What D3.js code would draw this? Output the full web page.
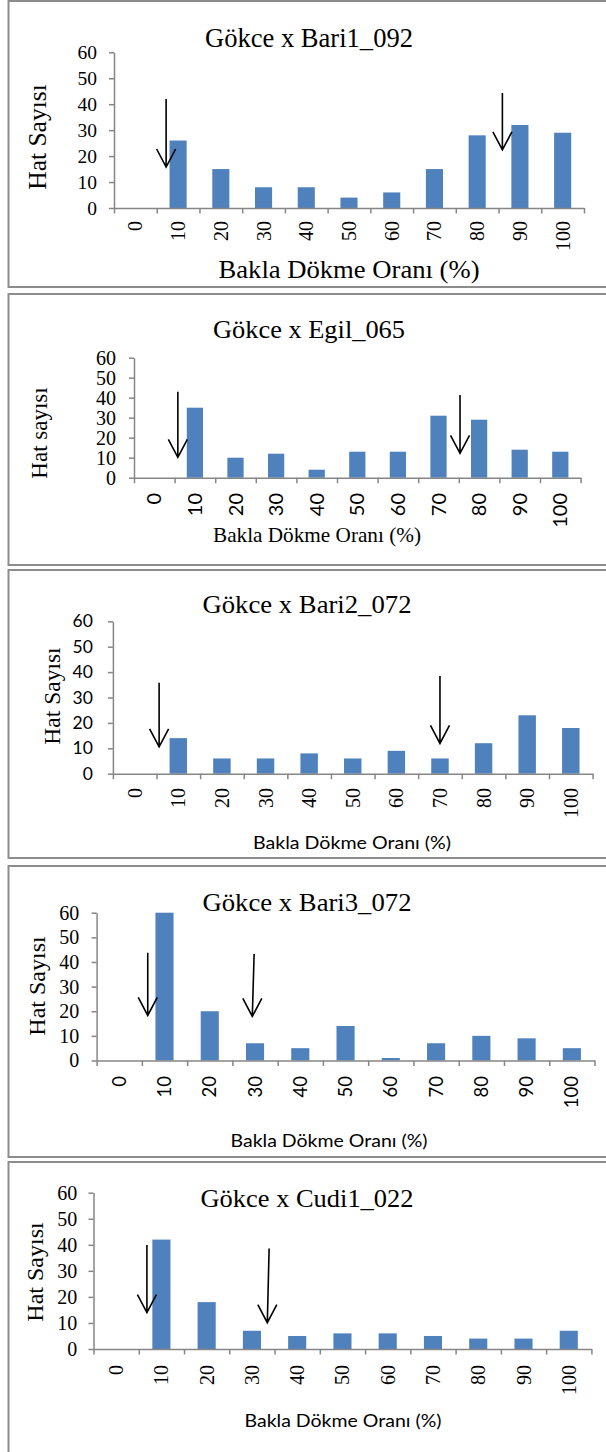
<!DOCTYPE html>
<html>
<head>
<meta charset="utf-8">
<script src="https://cdn.jsdelivr.net/npm/d3@7"></script>
<style>
  html, body { margin: 0; padding: 0; background: #fff; }
  svg { display: block; }
</style>
</head>
<body>
<div id="chart"></div>
<script>
// categories and tick values
const categories = ["0", "10", "20", "30", "40", "50", "60", "70", "80", "90", "100"];
const yTicks = [0, 10, 20, 30, 40, 50, 60];

const titles = ["Gökce x Bari1_092", "Gökce x Egil_065", "Gökce x Bari2_072", "Gökce x Bari3_072", "Gökce x Cudi1_022"];
const yTitles = ["Hat Sayısı", "Hat sayısı", "Hat Sayısı", "Hat Sayısı", "Hat Sayısı"];
const xTitle = "Bakla Dökme Oranı (%)";

// line counts per class
const bari1 = [0, 26, 15, 8, 8, 4, 6, 15, 28, 32, 29];
const egil = [0, 35, 10, 12, 4, 13, 13, 31, 29, 14, 13];
const bari2 = [0, 14, 6, 6, 8, 6, 9, 6, 12, 23, 18];
const bari3 = [0, 60, 20, 7, 5, 14, 1, 7, 10, 9, 5];
const cudi1 = [0, 42, 18, 7, 5, 6, 6, 5, 4, 4, 7];

// arrows: [category index at top, value at top, category index at tip, value at tip]
const arrows1 = [[0.72, 42, 0.72, 15.8], [8.59, 44.3, 8.59, 22.4]];
const arrows2 = [[0.58, 43, 0.58, 10.2], [7.53, 41.3, 7.53, 12.2]];
const arrows3 = [[0.56, 35.8, 0.56, 10.6], [7.0, 38.5, 7.0, 11.9]];
const arrows4 = [[0.63, 43.7, 0.63, 18.3], [2.98, 43.2, 2.94, 17.9]];
const arrows5 = [[0.68, 39.9, 0.68, 14.0], [3.38, 38.6, 3.34, 10.1]];

const seriesList = [bari1, egil, bari2, bari3, cudi1];
const arrowList = [arrows1, arrows2, arrows3, arrows4, arrows5];

const SERIF = '"Liberation Serif", "Times New Roman", serif';
const SANS = 'Lato, Carlito, Calibri, sans-serif';
const fontOf = f => f === "sans" ? SANS : SERIF;

// per-panel placement (box top/bottom, plot left/right/top/bottom, text placement)
const layout = [
  { box: [1, 287], plot: [114, 584, 52.3, 208], title: [309, 47, 26.5, 208],
    yTick: ["serif", 19.5, 12], xTick: ["serif", 20, 221], yTitle: ["serif", 25.5, 37, 137],
    xTitle: ["serif", 25, 349, 278, 261] },
  { box: [294, 565], plot: [134, 580.6, 357.7, 477.7], title: [309, 338, 26, 192],
    yTick: ["serif", 20, 13], xTick: ["sans", 20, 493], yTitle: ["serif", 23, 39, 433],
    xTitle: ["serif", 21, 317, 541.5, 208] },
  { box: [570, 858], plot: [112.9, 592.6, 621.3, 773.7], title: [307, 613, 26, 209],
    yTick: ["sans", 17.5, 15], xTick: ["serif", 20, 788], yTitle: ["serif", 23.5, 51.5, 696],
    xTitle: ["sans", 18, 352, 849, 198] },
  { box: [866, 1157], plot: [96.6, 594.5, 912.7, 1060.5], title: [307, 910.7, 26, 209],
    yTick: ["serif", 20, 12.4], xTick: ["sans", 18.5, 1076], yTitle: ["serif", 24, 37, 986],
    xTitle: ["sans", 17.5, 329, 1147, 197] },
  { box: [1162, 1480], plot: [93.5, 591.4, 1192.7, 1349], title: [307, 1207, 26, 213],
    yTick: ["serif", 20, 11.2], xTick: ["serif", 20, 1365], yTitle: ["serif", 24, 35, 1272],
    xTitle: ["sans", 17.5, 343, 1427, 197] }
];

const width = 606, height = 1452;
const axisColor = "#868686";
const barColor = "#4f81bd";

const svg = d3.select("#chart").append("svg")
  .attr("width", width)
  .attr("height", height);

function setFont(sel, family, size) {
  sel.attr("font-family", family)
    .attr("font-size", size)
    .style("font-family", family)
    .style("font-size", size + "px");
}

layout.forEach((L, i) => {
  const values = seriesList[i];
  const [left, right, top, bottom] = L.plot;
  const g = svg.append("g");

  // panel frame
  g.append("rect")
    .attr("x", 8.5)
    .attr("y", L.box[0])
    .attr("width", 640)
    .attr("height", L.box[1] - L.box[0])
    .attr("fill", "none")
    .attr("stroke", "#8c8c8c")
    .attr("stroke-width", 2);

  const x = d3.scaleBand()
    .domain(categories)
    .range([left, right])
    .paddingInner(0.6)
    .paddingOuter(0.3);

  const xi = d3.scaleLinear()
    .domain([-0.5, categories.length - 0.5])
    .range([left, right]);

  const y = d3.scaleLinear()
    .domain([0, 60])
    .range([bottom, top]);

  // bars
  g.selectAll(".bar")
    .data(values)
    .join("rect")
    .attr("class", "bar")
    .attr("x", (d, j) => x(categories[j]))
    .attr("width", x.bandwidth())
    .attr("y", d => y(d))
    .attr("height", d => y(0) - y(d))
    .attr("fill", barColor);

  // y axis
  const yAxis = g.append("g")
    .attr("transform", `translate(${left},0)`)
    .call(d3.axisLeft(y).tickValues(yTicks).tickSize(5).tickPadding(L.yTick[2]).tickSizeOuter(0));
  yAxis.attr("font-family", null).attr("font-size", null);
  yAxis.select(".domain").attr("stroke", axisColor).attr("stroke-width", 1.5);
  yAxis.selectAll(".tick line").attr("stroke", axisColor).attr("stroke-width", 1.5);
  setFont(yAxis.selectAll(".tick text").attr("fill", "#000"), fontOf(L.yTick[0]), L.yTick[1]);

  // x axis boundary ticks
  const xTickAxis = g.append("g")
    .attr("transform", `translate(0,${bottom})`)
    .call(d3.axisBottom(xi).tickValues(d3.range(-0.5, categories.length, 1)).tickSize(5.5).tickFormat("").tickSizeOuter(0));
  xTickAxis.select(".domain").attr("stroke", axisColor).attr("stroke-width", 1.5);
  xTickAxis.selectAll(".tick line").attr("stroke", axisColor).attr("stroke-width", 1.5);

  // x axis category labels, rotated
  const xAxis = g.append("g")
    .attr("transform", `translate(0,${bottom})`)
    .call(d3.axisBottom(x).tickSize(0));
  xAxis.attr("font-family", null).attr("font-size", null);
  xAxis.select(".domain").remove();
  const xText = xAxis.selectAll(".tick text")
    .attr("fill", "#000")
    .attr("x", 0)
    .attr("y", 0)
    .attr("dy", "0.35em")
    .attr("text-anchor", "end")
    .attr("transform", `translate(0,${L.xTick[2] - bottom}) rotate(-90)`);
  setFont(xText, fontOf(L.xTick[0]), L.xTick[1]);

  // arrows
  arrowList[i].forEach(a => {
    const x0 = xi(a[0]), y0 = y(a[1]), x1 = xi(a[2]), y1 = y(a[3]);
    const p = d3.path();
    p.moveTo(x0, y0);
    p.lineTo(x1, y1);
    p.moveTo(x1 - 9.5, y1 - 18);
    p.lineTo(x1, y1);
    p.lineTo(x1 + 9.5, y1 - 18);
    g.append("path")
      .attr("d", p.toString())
      .attr("fill", "none")
      .attr("stroke", "#000")
      .attr("stroke-width", 1.6);
  });

  // chart title
  const t = g.append("text")
    .attr("x", L.title[0])
    .attr("y", L.title[1])
    .attr("text-anchor", "middle")
    .attr("textLength", L.title[3])
    .attr("lengthAdjust", "spacingAndGlyphs")
    .text(titles[i]);
  setFont(t, SERIF, L.title[2]);

  // y axis title
  const yt = g.append("text")
    .attr("transform", `translate(${L.yTitle[2]},${L.yTitle[3]}) rotate(-90)`)
    .attr("text-anchor", "middle")
    .attr("dy", "0.35em")
    .text(yTitles[i]);
  setFont(yt, fontOf(L.yTitle[0]), L.yTitle[1]);

  // x axis title
  const xt = g.append("text")
    .attr("x", L.xTitle[2])
    .attr("y", L.xTitle[3])
    .attr("text-anchor", "middle")
    .attr("textLength", L.xTitle[4])
    .attr("lengthAdjust", "spacingAndGlyphs")
    .text(xTitle);
  setFont(xt, fontOf(L.xTitle[0]), L.xTitle[1]);
});
</script>
</body>
</html>
